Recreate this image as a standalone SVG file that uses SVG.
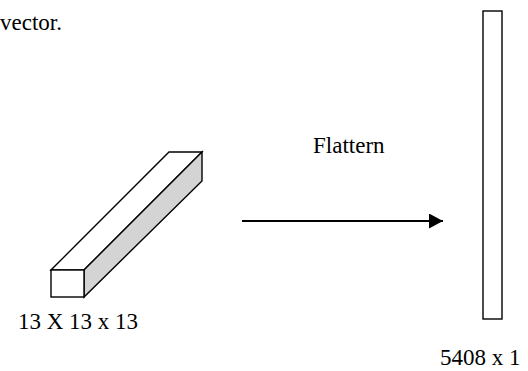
<svg xmlns="http://www.w3.org/2000/svg" width="528" height="371" viewBox="0 0 528 371">
<style>
.t{font-family:'Liberation Serif','Times New Roman','DejaVu Serif',serif;fill:#000;font-size:23px}
.s{stroke:#000;stroke-width:1.4;stroke-linejoin:miter}
</style>
<defs>
<marker id="ah" markerWidth="14" markerHeight="15" refX="14" refY="7.5" orient="auto" markerUnits="userSpaceOnUse">
<path d="M0,0 L14,7.5 L0,15 Z" fill="#000"/>
</marker>
</defs>
<rect width="528" height="371" fill="#fff"/>
<text class="t" x="0" y="30" font-family="Liberation Serif, serif">vector.</text>
<g id="cube">
<polygon class="s" points="51,270 169,152 202,152 84,270" fill="#fff"/>
<polygon class="s" points="84,270 202,152 202,181 84,297" fill="#d4d4d4"/>
<rect class="s" x="51" y="270" width="33" height="27" fill="#fff"/>
<text class="t" x="18" y="329" font-family="Liberation Serif, serif">13 X 13 x 13</text>
</g>
<g id="vector">
<rect class="s" x="483" y="11" width="19" height="308" fill="#fff"/>
<text class="t" x="440" y="365" font-family="Liberation Serif, serif">5408 x 1</text>
</g>
<g id="connectors">
<line x1="242" y1="221" x2="443" y2="221" stroke="#000" stroke-width="2" marker-end="url(#ah)"/>
<text class="t" x="313" y="153" font-family="Liberation Serif, serif">Flattern</text>
</g>
</svg>
